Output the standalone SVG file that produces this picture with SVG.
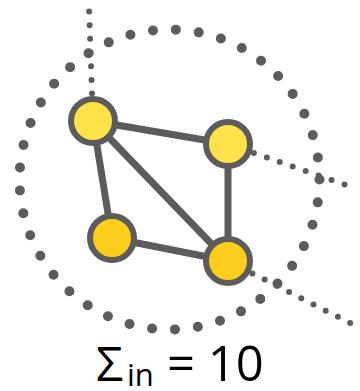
<svg xmlns="http://www.w3.org/2000/svg" width="360" height="391" viewBox="0 0 360 391">
<style>
.ring{fill:none;stroke:#5c5c5c;stroke-width:10;stroke-linecap:round;stroke-dasharray:0 23}
.ext{fill:none;stroke:#5c5c5c;stroke-width:6;stroke-linecap:round;stroke-dasharray:0 13.7}
.edge{stroke:#5c5c5c;stroke-width:7;stroke-linecap:round}
.n1{fill:#FFE14A;stroke:#5c5c5c;stroke-width:6}
.n2{fill:#FCCD1C;stroke:#5c5c5c;stroke-width:6}
.lbl{font-family:"Open Sans","Liberation Sans",sans-serif;fill:#000}
</style>
<rect width="360" height="391" fill="#fff"/>
<g id="community">
<circle class="ring" cx="169.5" cy="179.5" r="150"/>
</g>
<g id="connectors">
<line class="ext" x1="93" y1="121" x2="89" y2="8"/>
<line class="ext" x1="228" y1="144" x2="352" y2="187"/>
<line class="ext" x1="228" y1="261" x2="352" y2="324"/>
<line class="edge" x1="93" y1="121" x2="228" y2="144"/>
<line class="edge" x1="93" y1="121" x2="112" y2="238"/>
<line class="edge" x1="93" y1="121" x2="228" y2="261"/>
<line class="edge" x1="228" y1="144" x2="228" y2="261"/>
<line class="edge" x1="112" y1="238" x2="228" y2="261"/>
</g>
<g id="node-a"><circle class="n1" cx="93" cy="121" r="22"/></g>
<g id="node-b"><circle class="n1" cx="228" cy="144" r="22"/></g>
<g id="node-c"><circle class="n2" cx="112" cy="238" r="22"/></g>
<g id="node-d"><circle class="n2" cx="228" cy="261" r="22"/></g>
<g id="label">
<text class="lbl" font-size="48" x="96" y="381">Σ<tspan font-size="31" x="127" y="386">in</tspan><tspan x="167" y="381" font-size="49">= 10</tspan></text>
</g>
</svg>
